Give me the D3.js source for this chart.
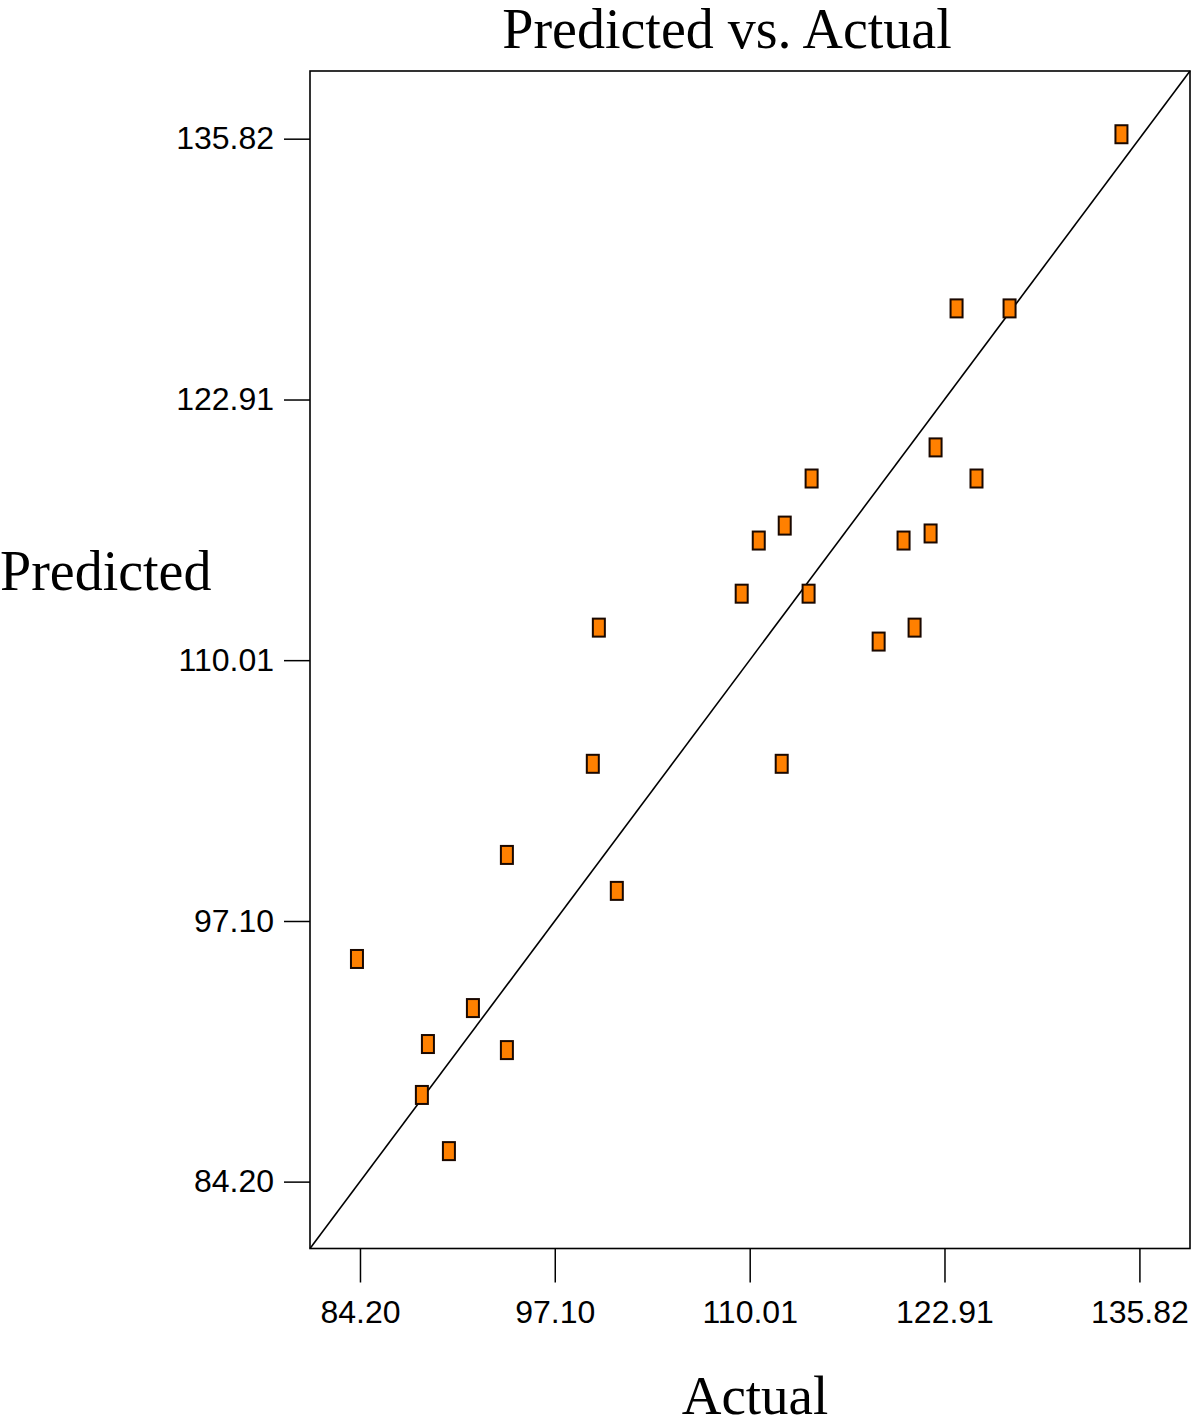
<!DOCTYPE html>
<html>
<head>
<meta charset="utf-8">
<script src="https://cdn.jsdelivr.net/npm/d3@7"></script>
<style>
  html, body { margin: 0; padding: 0; background: #fff; }
  svg { display: block; }
</style>
</head>
<body>
<svg id="chart" width="1200" height="1428"></svg>
<script>
// Data
const actual = [134.63, 123.71, 127.22, 122.32, 114.11, 125.03, 112.33, 110.61, 120.20, 121.99,
                109.48, 113.91, 100.02, 120.93, 118.55, 99.62, 112.13, 93.93, 101.21, 84.00,
                91.68, 88.70, 93.93, 88.30, 90.09];
const predicted = [136.04, 127.42, 127.42, 120.54, 119.00, 119.00, 116.67, 115.93, 115.93, 116.28,
                   113.30, 113.30, 111.62, 111.62, 110.93, 104.88, 104.88, 100.37, 98.59, 95.22,
                   92.79, 91.01, 90.71, 88.49, 85.71];
const tickValues = [84.20, 97.10, 110.01, 122.91, 135.82];
const tickLabels = ["84.20", "97.10", "110.01", "122.91", "135.82"];
const axisDomain = [80.89, 139.17];

const svg = d3.select("#chart");
const pLeft = 310, pRight = 1190, pTop = 71, pBottom = 1248.5;

const x = d3.scaleLinear().domain(axisDomain).range([pLeft, pRight]);
const y = d3.scaleLinear().domain(axisDomain).range([pBottom, pTop]);

const serif = "'Liberation Serif', 'Times New Roman', serif";

// Title
svg.append("text")
  .attr("x", 727).attr("y", 48)
  .attr("text-anchor", "middle")
  .attr("font-family", serif)
  .attr("font-size", 56)
  .text("Predicted vs. Actual");

// Axis titles
svg.append("text")
  .attr("x", 0).attr("y", 590)
  .attr("font-family", serif)
  .attr("font-size", 56)
  .text("Predicted");

svg.append("text")
  .attr("x", 755).attr("y", 1414)
  .attr("text-anchor", "middle")
  .attr("font-family", serif)
  .attr("font-size", 55)
  .text("Actual");

// Axes
const fmt = d => tickLabels[tickValues.indexOf(d)];
const xAxis = d3.axisBottom(x).tickValues(tickValues).tickFormat(fmt).tickSize(34).tickPadding(18);
const yAxis = d3.axisLeft(y).tickValues(tickValues).tickFormat(fmt).tickSize(26).tickPadding(10);

const gx = svg.append("g").attr("transform", `translate(0,${pBottom})`).call(xAxis);
const gy = svg.append("g").attr("transform", `translate(${pLeft},0)`).call(yAxis);
[gx, gy].forEach(g => {
  g.select(".domain").remove();
  g.selectAll(".tick line").attr("stroke", "#000").attr("stroke-width", 1.5);
  g.selectAll(".tick text")
    .attr("fill", "#000")
    .attr("font-family", "'Liberation Sans', Arial, Helvetica, sans-serif")
    .attr("font-size", 32);
});

// Frame
svg.append("rect")
  .attr("x", pLeft).attr("y", pTop)
  .attr("width", pRight - pLeft).attr("height", pBottom - pTop)
  .attr("fill", "none").attr("stroke", "#000").attr("stroke-width", 1.6);

// Diagonal y = x
svg.append("line")
  .attr("x1", x(axisDomain[0])).attr("y1", y(axisDomain[0]))
  .attr("x2", x(axisDomain[1])).attr("y2", y(axisDomain[1]))
  .attr("stroke", "#000").attr("stroke-width", 1.6);

// Points
const pts = actual.map((a, i) => ({a, p: predicted[i]}));
svg.append("g").selectAll("rect").data(pts).enter().append("rect")
  .attr("x", d => x(d.a) - 6)
  .attr("y", d => y(d.p) - 9)
  .attr("width", 12).attr("height", 18)
  .attr("fill", "#FF8000")
  .attr("stroke", "#1a0800")
  .attr("stroke-width", 2);
</script>
</body>
</html>
